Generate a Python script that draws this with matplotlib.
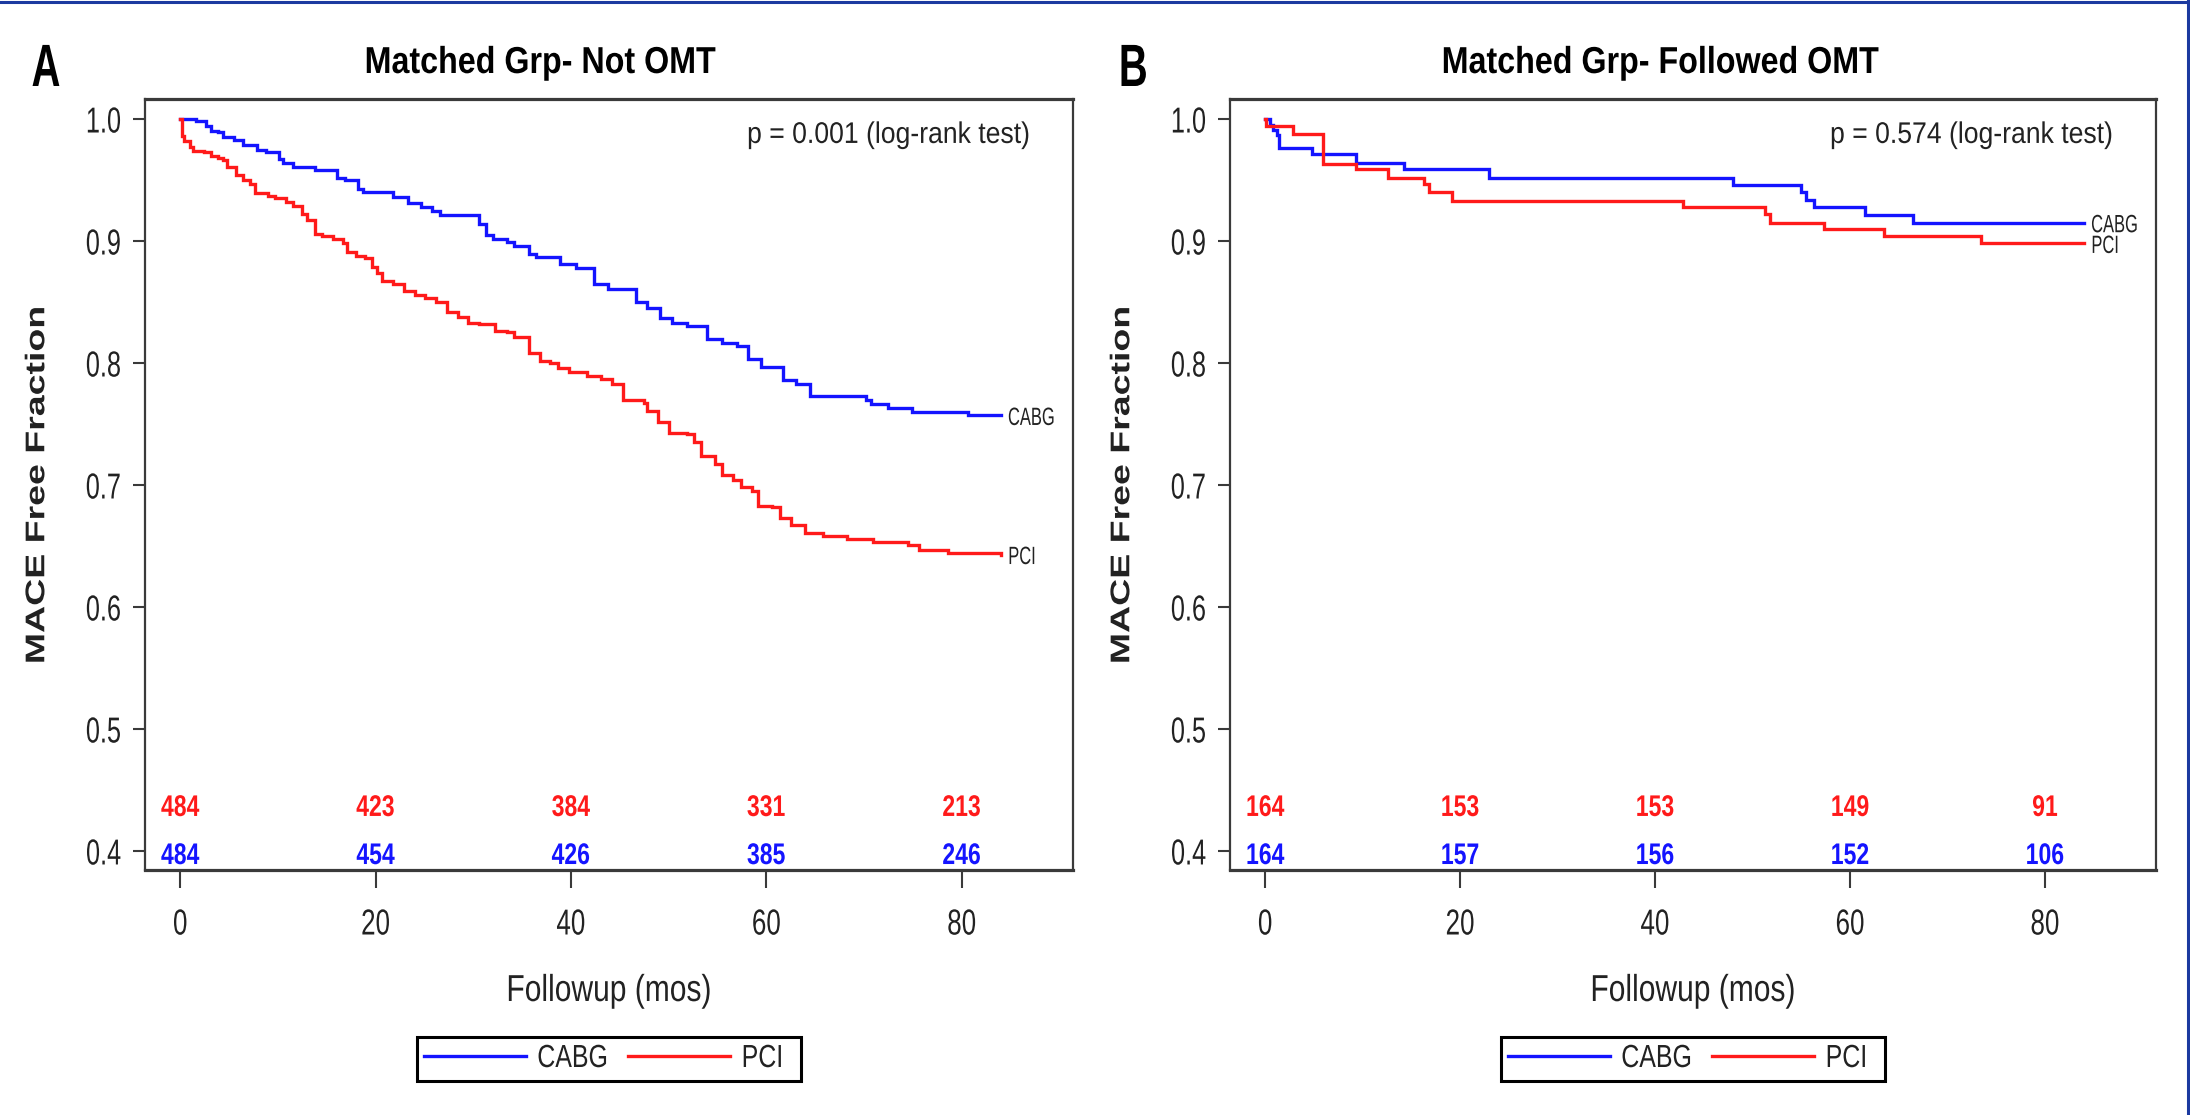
import matplotlib
matplotlib.use('Agg')
import matplotlib.pyplot as plt
from matplotlib import patheffects
from matplotlib.lines import Line2D
from matplotlib.transforms import Affine2D

# Kaplan-Meier style step curves: MACE free fraction vs follow-up (months)
plt.rcParams['font.family'] = ['Liberation Sans', 'DejaVu Sans']

# Panel A - matched group, not on OMT
cabg_a_t = [0, 1.6, 2.6, 3.2, 3.9, 4.4, 5.5, 6.4, 7.9, 8.8, 10.1, 10.5, 11.6, 13.8, 16.1,
            16.9, 18.2, 18.7, 21.8, 23.3, 24.7, 25.8, 26.6, 30.6, 31.3, 32.0, 33.5, 34.2, 35.7, 36.4,
            38.9, 40.5, 42.4, 43.8, 46.7, 47.8, 49.1, 50.4, 51.9, 53.9, 55.5, 57.0, 58.1, 59.5, 61.7,
            63.0, 64.5, 70.2, 70.7, 72.5, 74.9, 80.6, 84.0]
cabg_a_s = [1.000, 0.998, 0.994, 0.990, 0.989, 0.985, 0.983, 0.979, 0.975, 0.973, 0.967, 0.964, 0.961, 0.958, 0.952,
            0.950, 0.943, 0.940, 0.936, 0.931, 0.928, 0.925, 0.921, 0.914, 0.905, 0.902, 0.899, 0.896, 0.889, 0.887,
            0.881, 0.878, 0.865, 0.861, 0.850, 0.845, 0.837, 0.833, 0.830, 0.820, 0.816, 0.814, 0.803, 0.797, 0.786,
            0.783, 0.773, 0.770, 0.766, 0.763, 0.760, 0.757, 0.757]
pci_a_t = [0, 0.2, 0.4, 1.0, 1.3, 2.4, 3.2, 3.9, 4.4, 4.8, 5.7, 6.4, 7.2, 7.7, 9.0,
           9.7, 10.8, 11.6, 12.5, 13.0, 13.8, 14.5, 15.6, 16.7, 17.1, 18.0, 18.9, 19.6, 20.2, 20.7,
           21.8, 22.9, 24.0, 25.1, 26.2, 27.3, 28.4, 29.5, 30.6, 32.2, 33.5, 34.2, 35.7, 36.8, 37.9,
           38.7, 39.8, 41.6, 43.1, 44.2, 45.3, 47.5, 47.8, 48.9, 50.0, 51.9, 52.6, 53.3, 54.8, 55.5,
           56.6, 57.4, 58.5, 59.2, 60.6, 61.4, 62.5, 64.0, 65.8, 68.3, 70.9, 74.5, 75.6, 78.6, 84.0]
pci_a_s = [1.000, 0.986, 0.982, 0.977, 0.974, 0.973, 0.970, 0.968, 0.966, 0.961, 0.954, 0.950, 0.947, 0.939, 0.937,
           0.935, 0.932, 0.929, 0.922, 0.917, 0.906, 0.904, 0.902, 0.898, 0.891, 0.888, 0.886, 0.879, 0.874, 0.867,
           0.865, 0.859, 0.856, 0.853, 0.850, 0.842, 0.838, 0.833, 0.832, 0.826, 0.825, 0.821, 0.808, 0.802, 0.800,
           0.796, 0.793, 0.789, 0.787, 0.783, 0.770, 0.767, 0.761, 0.752, 0.743, 0.742, 0.735, 0.724, 0.717, 0.708,
           0.704, 0.698, 0.695, 0.683, 0.682, 0.673, 0.667, 0.661, 0.658, 0.656, 0.653, 0.651, 0.647, 0.644, 0.643]

# Panel B - matched group, followed OMT
cabg_b_t = [0, 0.5, 0.8, 1.2, 1.4, 4.8, 9.3, 14.2, 23.0, 48.0, 55.0, 55.5, 56.3, 61.5, 66.5, 84.0]
cabg_b_s = [1.000, 0.995, 0.991, 0.987, 0.976, 0.971, 0.964, 0.959, 0.952, 0.946, 0.940, 0.934, 0.928, 0.921, 0.915, 0.915]
pci_b_t = [0, 0.1, 2.9, 5.9, 9.3, 12.6, 16.3, 16.8, 19.2, 42.9, 51.3, 51.8, 57.3, 63.5, 73.4, 84.0]
pci_b_s = [1.000, 0.994, 0.988, 0.963, 0.959, 0.952, 0.947, 0.940, 0.933, 0.928, 0.922, 0.915, 0.910, 0.904, 0.898, 0.898]

# numbers at risk
risk_times = [0, 20, 40, 60, 80]
risk_pci_a = [484, 423, 384, 331, 213]
risk_cabg_a = [484, 454, 426, 385, 246]
risk_pci_b = [164, 153, 153, 149, 91]
risk_cabg_b = [164, 157, 156, 152, 106]

p_values = ['0.001', '0.574']
titles = ['Matched Grp- Not OMT', 'Matched Grp- Followed OMT']
letters = ['A', 'B']
y_ticks = [0.4, 0.5, 0.6, 0.7, 0.8, 0.9, 1.0]

BLUE = '#1414ff'
RED = '#ff1a1a'
SPINE = '#3a3a3a'
INK = '#222222'


class Squeeze(patheffects.AbstractPathEffect):
    """Draw text narrower horizontally, keeping its centre (or one edge) in place."""

    def __init__(self, sx, anchor='center'):
        super().__init__()
        self.sx = sx
        self.anchor = anchor

    def draw_path(self, renderer, gc, tpath, affine, rgbFace=None):
        ext = tpath.get_extents(affine)
        if self.anchor == 'left':
            x0 = ext.x0
        elif self.anchor == 'right':
            x0 = ext.x1
        else:
            x0 = 0.5 * (ext.x0 + ext.x1)
        squeezed = affine + Affine2D().translate(-x0, 0).scale(self.sx, 1).translate(x0, 0)
        renderer.draw_path(gc, tpath, squeezed, rgbFace)


fig = plt.figure(figsize=(21.9, 11.15), dpi=100)
W, H = 2190.0, 1115.0

panels = [
    dict(rect=[145 / W, 1 - 870 / H, 928 / W, 771 / H], cabg=(cabg_a_t, cabg_a_s), pci=(pci_a_t, pci_a_s),
         risk=(risk_pci_a, risk_cabg_a), letter_x=46, title_x=540, ylab_x=38, centre_x=609),
    dict(rect=[1230 / W, 1 - 870 / H, 926 / W, 771 / H], cabg=(cabg_b_t, cabg_b_s), pci=(pci_b_t, pci_b_s),
         risk=(risk_pci_b, risk_cabg_b), letter_x=1133, title_x=1660, ylab_x=1123, centre_x=1693),
]

for i, p in enumerate(panels):
    ax = fig.add_axes(p['rect'])
    ct, cs = p['cabg']
    pt, ps = p['pci']
    ax.step(ct, cs, where='post', color=BLUE, lw=2.4, solid_joinstyle='miter')
    ax.step(pt, ps, where='post', color=RED, lw=2.4, solid_joinstyle='miter')

    # curve end labels
    end_fx = [Squeeze(0.66, 'left')]
    ax.text(ct[-1] + 0.7, cs[-1], 'CABG', fontsize=18, color=INK, ha='left',
            va='center_baseline', path_effects=end_fx)
    ax.text(pt[-1] + 0.7, ps[-1], 'PCI', fontsize=18, color=INK, ha='left',
            va='center_baseline', path_effects=end_fx)

    # numbers at risk inside the plot area
    pci_n, cabg_n = p['risk']
    risk_fx = [Squeeze(0.77)]
    for t, n in zip(risk_times, pci_n):
        ax.text(t, 0.4287, str(n), color=RED, fontsize=21.5, fontweight='bold',
                ha='center', va='baseline', path_effects=risk_fx)
    for t, n in zip(risk_times, cabg_n):
        ax.text(t, 0.3893, str(n), color=BLUE, fontsize=21.5, fontweight='bold',
                ha='center', va='baseline', path_effects=risk_fx)

    ax.text(0.954, 0.943, 'p = %s (log-rank test)' % p_values[i], transform=ax.transAxes,
            fontsize=21.5, color=INK, ha='right', va='baseline',
            path_effects=[Squeeze(0.89, 'right')])

    ax.set_xlim(-3.6, 91.4)
    ax.set_ylim(0.3844, 1.0164)
    ax.set_xticks(risk_times)
    ax.set_yticks(y_ticks)
    ax.set_yticklabels(['%.1f' % v for v in y_ticks])
    ax.tick_params(axis='x', direction='out', length=13, width=1.5, pad=14, labelsize=26,
                   color=SPINE, labelcolor=INK)
    ax.tick_params(axis='y', direction='out', length=9, width=1.5, pad=8, labelsize=26,
                   color=SPINE, labelcolor=INK)
    for lab in ax.get_xticklabels():
        lab.set_path_effects([Squeeze(0.72)])
    for lab in ax.get_yticklabels():
        lab.set_path_effects([Squeeze(0.70, 'right')])
    for side in ['top', 'bottom']:
        ax.spines[side].set_linewidth(2.3)
    for side in ['left', 'right']:
        ax.spines[side].set_linewidth(1.6)
    for s in ax.spines.values():
        s.set_color(SPINE)

    fig.text(p['letter_x'] / W, 1 - 86 / H, letters[i], fontsize=43, fontweight='bold',
             ha='center', va='baseline', path_effects=[Squeeze(0.67)])
    fig.text(p['title_x'] / W, 1 - 73 / H, titles[i], fontsize=27, fontweight='bold',
             ha='center', va='baseline', path_effects=[Squeeze(0.86)])
    fig.text(p['ylab_x'] / W, 1 - 485 / H, 'MACE Free Fraction', rotation=90, fontsize=27,
             fontweight='bold', color=INK, ha='center', va='center', path_effects=[Squeeze(0.72)])
    fig.text(p['centre_x'] / W, 1 - 1001 / H, 'Followup (mos)', fontsize=27, color=INK,
             ha='center', va='baseline', path_effects=[Squeeze(0.80)])

    handles = [Line2D([], [], color=BLUE, lw=2.4), Line2D([], [], color=RED, lw=2.4)]
    leg = fig.legend(handles, ['CABG', 'PCI'], loc='center', bbox_to_anchor=(p['centre_x'] / W, 1 - 1059 / H),
                     ncol=2, fontsize=23, frameon=True, fancybox=False, edgecolor='black', framealpha=1,
                     handlelength=3.2, handletextpad=0.35, columnspacing=0.0, borderpad=0.22)
    leg.get_frame().set_linewidth(2.2)
    for txt in leg.get_texts():
        txt.set_color(INK)
        txt.set_path_effects([Squeeze(0.78, 'left')])

# thin navy frame along the top and right edges
fig.add_artist(Line2D([0, 1], [0.9985, 0.9985], transform=fig.transFigure, color='#1c3aa0', lw=2.2))
fig.add_artist(Line2D([0.9993, 0.9993], [0, 1], transform=fig.transFigure, color='#1c3aa0', lw=2.2))

fig.savefig('out.png', dpi=100)
